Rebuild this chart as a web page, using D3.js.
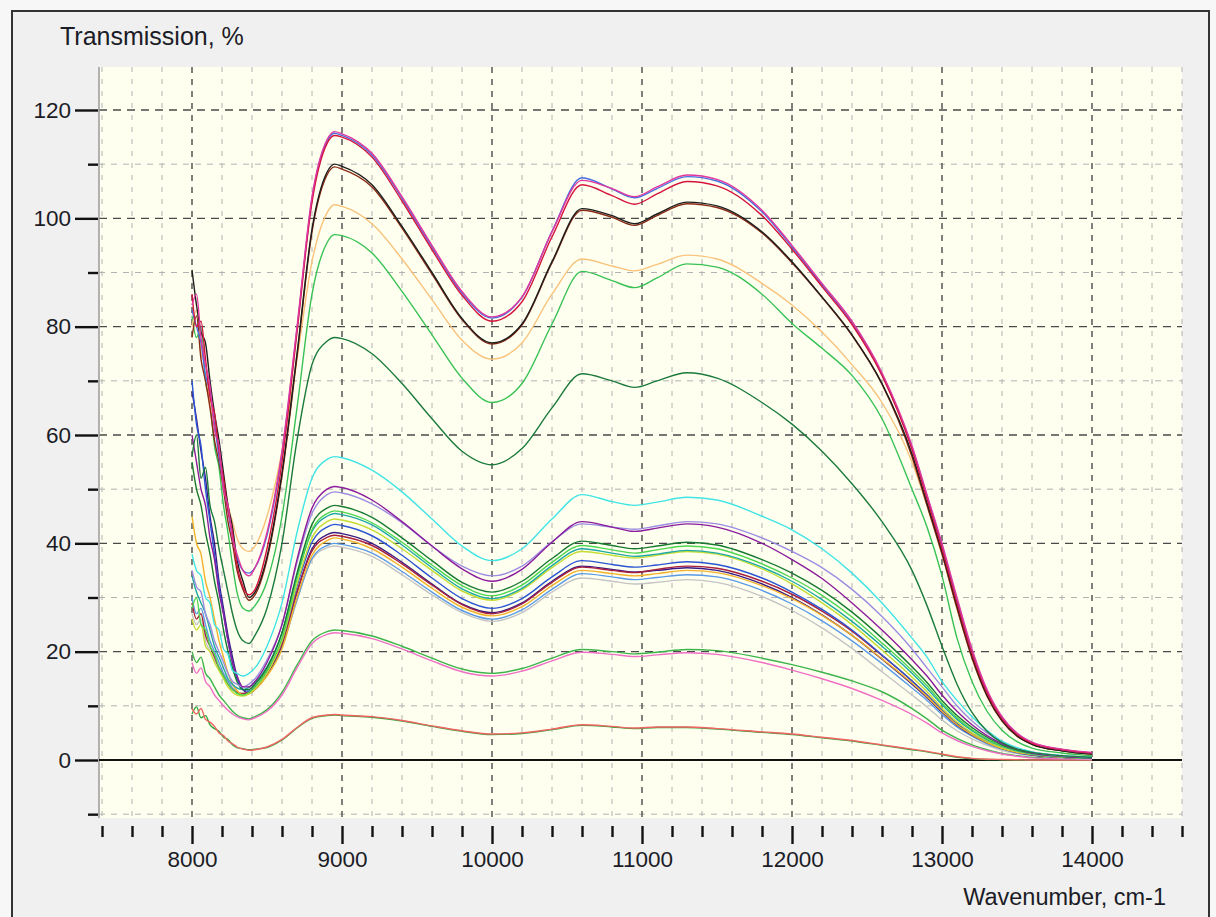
<!DOCTYPE html>
<html>
<head>
<meta charset="utf-8">
<script src="https://cdn.jsdelivr.net/npm/d3@7"></script>
<style>
  body { margin: 0; background: #f7f7f7; }
  text { font-family: "Liberation Sans", Arial, sans-serif; fill: #1c1c26; }
</style>
</head>
<body>
<svg id="chart" width="1216" height="917"></svg>
<script>
// wavenumber grid (cm-1) shared by every spectrum
const wavenumbers = [8000, 8030, 8060, 8090, 8120, 8150, 8180, 8210, 8240, 8270,
  8300, 8340, 8380, 8420, 8500, 8600, 8700, 8800, 8900, 8950,
  9000, 9200, 9400, 9600, 9800, 10000, 10200, 10400, 10600, 10800,
  10950, 11100, 11300, 11500, 11800, 12000, 12200, 12400, 12600, 12800,
  12900, 13000, 13100, 13200, 13300, 13400, 13500, 13600, 13800, 14000];

// top group
const magentaTop = [84, 86, 78, 73, 69, 61, 58, 50, 47, 41,
  38, 35, 34, 35.5, 42, 57, 80, 104, 114.5, 116,
  115.6, 112, 104, 95, 86.5, 81.8, 85.5, 97.5, 107, 105.5,
  104, 105.8, 108, 107.2, 101.5, 95, 88, 81, 71.5, 58,
  49, 40, 30, 20.5, 13, 8, 5, 3.3, 2, 1.4];
const blueTop = [83, 80, 77, 71, 68, 62, 56, 51, 46, 41,
  37.5, 35, 34.5, 35.5, 41.5, 56.5, 79.5, 103.6, 114.2, 115.7,
  115.3, 111.7, 103.7, 94.7, 86.2, 81.6, 85.4, 97.6, 107.5, 105.4,
  103.8, 105.5, 107.7, 106.9, 101.2, 94.7, 87.7, 80.7, 71.2, 57.7,
  48.7, 39.6, 29.6, 20.1, 12.7, 7.8, 4.9, 3.2, 1.9, 1.3];
const redTop = [86, 80, 81, 74, 67, 64, 57, 52, 46, 42,
  36, 32, 30.5, 31.5, 39, 55, 79, 103, 113.8, 115.3,
  115, 111.3, 103.2, 94.2, 85.8, 81, 84.6, 96.6, 106.2, 104.2,
  102.6, 104.5, 106.8, 106, 100.5, 94.3, 87.4, 80.4, 71, 57.3,
  48.2, 39, 29, 19.6, 12.4, 7.6, 4.7, 3.1, 1.9, 1.3];
const brownTop = [78, 82, 74, 70, 65, 59, 55, 50, 44, 40,
  35, 31.5, 29.5, 30.5, 37, 52.5, 74.5, 97.5, 108, 109.5,
  109.1, 105.8, 98.2, 89.7, 81.3, 76.8, 80.3, 91.8, 101.5, 100.2,
  98.7, 100.5, 102.7, 102, 97.3, 91.8, 85.4, 78.4, 69.4, 56,
  47, 38, 28, 18.8, 11.8, 7.2, 4.4, 2.9, 1.7, 1.1];
const blackTop = [90.5, 84, 79, 77, 70, 64, 59, 53, 47, 43,
  37, 33, 30, 31, 37.5, 53, 75, 98, 108.5, 110,
  109.6, 106.2, 98.5, 90, 81.5, 77, 80.5, 92, 101.8, 100.5,
  99, 100.8, 103, 102.3, 97.5, 92, 85.5, 78.5, 69.5, 56.5,
  47.5, 38.5, 28.5, 19.2, 12, 7.3, 4.5, 2.9, 1.7, 1.1];
const orangeTop = [80, 83, 75, 73, 66, 62, 57, 52, 47, 44,
  41, 39, 38.5, 39.5, 45, 57, 74, 92, 101, 102.5,
  102.2, 99, 92.5, 85, 77.5, 74, 77, 86, 92.5, 91.2,
  90.3, 91.5, 93.2, 92.5, 88, 84, 79, 73, 66, 55,
  47, 38, 28, 19, 12, 7.3, 4.5, 2.9, 1.7, 1];
const greenTop = [82, 78, 80, 70, 66, 58, 54, 47, 42, 36,
  31, 28, 27.5, 28.5, 33, 45, 65, 86, 95.5, 97,
  96.8, 93.6, 86.5, 78.5, 70.5, 66, 69.5, 80.5, 90.2, 88.5,
  87.2, 89, 91.6, 91, 86, 80.6, 76, 71, 63, 50,
  43, 34, 22.5, 14.5, 9, 5.5, 3.4, 2.2, 1.3, 0.8];
const darkGreenTop = [56, 60, 52, 54, 47, 44, 39, 35, 31, 27,
  24, 22, 21.5, 23, 28, 40, 59, 73, 77.3, 78,
  77.8, 75, 69.5, 63, 57, 54.5, 57.5, 65, 71.3, 70,
  68.8, 70, 71.5, 70.5, 66, 62, 57, 51, 44, 35,
  28.5, 21, 14, 8.8, 5.3, 3.2, 2, 1.4, 0.8, 0.5];

// middle group
const cyanB = [38, 35, 34, 30, 29, 25, 24, 20.5, 19.5, 16.5,
  16, 15.5, 16, 17, 21, 29, 42, 52, 55.5, 56,
  55.8, 53.5, 49.5, 44.5, 39.5, 36.8, 39, 44.5, 49, 47.7,
  47, 47.6, 48.5, 48, 45, 42.5, 39, 34.5, 29, 22.5,
  19, 14.5, 11, 8, 5.5, 3.5, 2.3, 1.5, 0.8, 0.5];
const purpleB = [60, 55, 50, 47, 41, 37, 31, 27, 22, 18,
  15.5, 13.5, 13.5, 14.5, 18, 25, 37, 46.5, 50, 50.5,
  50.3, 48, 44, 39.5, 35.3, 33, 35.2, 40.2, 44, 43,
  42.2, 42.8, 43.6, 43, 40, 37, 33.5, 29, 24, 18.5,
  15.5, 12, 9, 6.5, 4.5, 3, 2, 1.3, 0.7, 0.4];
const lavenderB = [35, 32, 31, 27, 25, 22, 20, 18, 16, 14.5,
  14, 13.5, 14, 15, 18.5, 25, 36.5, 45.5, 49, 49.5,
  49.3, 47.3, 43.8, 39.5, 35.8, 34, 35.8, 40.3, 43.6, 43,
  42.6, 43.2, 44, 43.6, 41, 38.5, 35.5, 31.5, 26.5, 20.5,
  17, 13.5, 10, 7.2, 5, 3.3, 2.2, 1.5, 0.8, 0.5];
const darkGreenB = [55, 50, 47, 42, 38, 33, 29, 24, 20, 17,
  14.5, 13, 13, 14, 17, 23.5, 34.5, 43.5, 46.5, 47,
  46.8, 44.8, 41, 36.8, 32.8, 31, 33, 37.2, 40.4, 39.6,
  39, 39.5, 40.2, 39.7, 37, 34.5, 31.3, 27.3, 22.5, 17.2,
  14.3, 11, 8.2, 6, 4.2, 2.8, 1.9, 1.3, 0.7, 0.4];
const lightGreenB = [28, 30, 25, 24, 21, 19.5, 17, 15.5, 14, 13,
  12.3, 12, 12.5, 13.5, 16.5, 22.5, 33.5, 42.5, 45.5, 46,
  45.8, 43.8, 40.2, 36, 32.2, 30.3, 32.3, 36.5, 39.6, 38.8,
  38.2, 38.8, 39.5, 39, 36.2, 33.6, 30.4, 26.4, 21.6, 16.5,
  13.7, 10.5, 7.8, 5.6, 3.9, 2.6, 1.8, 1.2, 0.6, 0.4];
const yellowGreenB = [26, 24, 25, 21, 20, 18, 16.5, 15, 13.5, 12.5,
  12, 11.8, 12.2, 13.2, 16, 22, 32.5, 41, 44, 44.5,
  44.3, 42.5, 39, 35, 31.2, 29.5, 31.4, 35.5, 38.5, 37.8,
  37.3, 37.8, 38.5, 38, 35.3, 32.5, 29, 25, 20.3, 15.3,
  12.6, 9.6, 7, 5, 3.5, 2.3, 1.6, 1.1, 0.6, 0.3];
const blueB = [70, 62, 58, 50, 44, 38, 32, 27, 22, 18,
  15, 13, 12.7, 13.5, 16.3, 22, 32, 40.2, 43, 43.5,
  43.3, 41.4, 37.8, 33.6, 29.8, 28, 29.8, 33.8, 36.8, 36.1,
  35.6, 36, 36.6, 36.1, 33.6, 31, 27.8, 24, 19.4, 14.6,
  12, 9.2, 6.7, 4.8, 3.3, 2.2, 1.5, 1, 0.5, 0.3];
const navyB = [68, 63, 57, 52, 45, 40, 33, 28, 23, 19,
  15.5, 13, 12.3, 13, 15.8, 21.3, 31, 39, 41.6, 42,
  41.8, 40, 36.5, 32.5, 28.8, 27.2, 29, 33, 35.8, 35.2,
  34.7, 35, 35.5, 35, 32.5, 30, 26.8, 23, 18.6, 14,
  11.5, 8.8, 6.4, 4.6, 3.2, 2.1, 1.4, 0.9, 0.5, 0.3];
const steelBlueB = [30, 27, 28, 25, 22, 20, 18, 16, 14.5, 13.3,
  12.5, 12.2, 12.5, 13.3, 15.8, 20.8, 29.5, 37.2, 39.6, 40,
  39.8, 38.2, 34.8, 31, 27.6, 26, 27.7, 31.5, 34.4, 33.8,
  33.3, 33.7, 34.2, 33.8, 31.3, 28.8, 25.7, 22, 17.8, 13.3,
  11, 8.4, 6.1, 4.4, 3, 2, 1.3, 0.9, 0.5, 0.3];
const grayB = [27, 25, 26, 22, 20, 18.5, 17, 15.5, 14.5, 13.8,
  13.2, 13, 13.3, 14, 16.5, 21.5, 30, 37, 39.2, 39.5,
  39.3, 37.6, 34.2, 30.5, 27.2, 25.6, 27.2, 31, 33.6, 33,
  32.5, 32.8, 33.3, 32.8, 30.2, 27.6, 24.4, 20.6, 16.3, 12,
  9.8, 7.4, 5.4, 3.9, 2.7, 1.8, 1.2, 0.8, 0.4, 0.2];
const tealB = [34, 31, 29, 27, 24, 21, 19, 17, 15, 14,
  13.3, 13, 13.4, 14.3, 17.2, 23.5, 34, 42.2, 45, 45.5,
  45.3, 43.4, 39.7, 35.5, 31.6, 29.8, 31.7, 35.9, 39, 38.2,
  37.6, 38, 38.7, 38.2, 35.6, 33, 29.6, 25.6, 21, 16,
  13.2, 10.2, 7.5, 5.4, 3.7, 2.5, 1.7, 1.1, 0.6, 0.3];
const maroonB = [29, 26, 27, 23, 21, 19, 17, 15.5, 14, 13,
  12.5, 12.3, 12.6, 13.4, 16, 21.5, 31, 38.6, 41.1, 41.5,
  41.3, 39.6, 36.2, 32.3, 28.7, 27, 28.8, 32.8, 35.6, 35,
  34.6, 35.2, 35.8, 35.4, 33, 30.6, 27.5, 23.8, 19.3, 14.6,
  12, 9.2, 6.7, 4.8, 3.3, 2.2, 1.5, 1, 0.5, 0.3];
const orangeB = [45, 40, 38, 33, 30, 26, 22, 19, 16, 14,
  12.8, 12, 12.2, 13, 15.5, 20.5, 30, 37.8, 40.5, 41,
  40.8, 39, 35.6, 31.7, 28.2, 26.6, 28.3, 32.2, 35, 34.4,
  34, 34.4, 35, 34.6, 32.2, 29.8, 26.7, 23, 18.7, 14.2,
  11.7, 9, 6.5, 4.7, 3.2, 2.1, 1.4, 1, 0.5, 0.3];

// low group
const greenC = [20, 18, 19, 16, 15, 13.5, 12, 11, 10, 9,
  8.3, 7.8, 7.6, 8, 9.3, 12.5, 17.5, 22, 23.7, 24,
  23.9, 22.9, 21, 18.8, 16.8, 16, 16.9, 18.8, 20.4, 20,
  19.6, 19.9, 20.4, 20.2, 18.8, 17.6, 16.2, 14.6, 12.6, 9.5,
  7.6, 5.5, 4, 2.8, 1.9, 1.2, 0.8, 0.5, 0.3, 0.2];
const pinkC = [18, 16, 17, 14.5, 13.5, 12, 11, 10, 9.2, 8.5,
  8, 7.6, 7.4, 7.8, 9, 12, 17, 21.5, 23.2, 23.5,
  23.4, 22.4, 20.5, 18.3, 16.3, 15.5, 16.4, 18.3, 19.9, 19.5,
  19.1, 19.4, 19.8, 19.5, 18, 16.6, 15, 13.2, 11, 8.4,
  6.8, 5, 3.6, 2.5, 1.7, 1.1, 0.7, 0.4, 0.2, 0.1];
const greenLow = [8.5, 9.8, 7.8, 8.2, 6.5, 5.8, 5.3, 4.2, 3.8, 2.8,
  2.3, 2.1, 1.9, 2, 2.3, 3.7, 5.9, 7.7, 8.2, 8.3,
  8.2, 7.9, 7.2, 6.2, 5.3, 4.7, 4.9, 5.6, 6.4, 6.1,
  5.8, 6, 6, 5.7, 5.1, 4.7, 4.1, 3.5, 2.7, 1.9,
  1.5, 1, 0.5, 0.25, 0.1, 0.05, 0, 0, 0, 0];
const redLow = [9.5, 8.5, 9.5, 7.5, 7, 6.2, 5, 4.5, 3.5, 3,
  2.4, 2, 1.8, 1.9, 2.4, 3.8, 6, 7.8, 8.3, 8.4,
  8.3, 8, 7.3, 6.3, 5.4, 4.8, 5, 5.7, 6.5, 6.2,
  5.9, 6.1, 6.1, 5.8, 5.2, 4.8, 4.2, 3.6, 2.8, 2,
  1.6, 1.1, 0.6, 0.3, 0.15, 0.1, 0.05, 0, 0, 0];

// tick labels
const xTickLabels = [8000, 9000, 10000, 11000, 12000, 13000, 14000];
const yTickLabels = [0, 20, 40, 60, 80, 100, 120];

// drawing order (first = bottom)
const spectra = [
  { values: greenLow, color: "#2fa83a" },
  { values: redLow, color: "#f06464" },
  { values: greenC, color: "#3cb44a" },
  { values: pinkC, color: "#ee6fc4" },
  { values: grayB, color: "#c4c4c4" },
  { values: steelBlueB, color: "#5a9ae6" },
  { values: navyB, color: "#3b1a86" },
  { values: maroonB, color: "#a8203e" },
  { values: blueB, color: "#2b55d4" },
  { values: orangeB, color: "#f2b22a" },
  { values: yellowGreenB, color: "#c6dc32" },
  { values: tealB, color: "#1fa9a2" },
  { values: lightGreenB, color: "#4ed64e" },
  { values: darkGreenB, color: "#177a30" },
  { values: lavenderB, color: "#9c8ce2" },
  { values: purpleB, color: "#8a1c9c" },
  { values: cyanB, color: "#40e4e4" },
  { values: darkGreenTop, color: "#1b7a3c" },
  { values: greenTop, color: "#38c255" },
  { values: orangeTop, color: "#f8c27a" },
  { values: brownTop, color: "#8a2a14" },
  { values: blackTop, color: "#1e1e1e" },
  { values: blueTop, color: "#4a6ee0" },
  { values: redTop, color: "#d4143c" },
  { values: magentaTop, color: "#e0369e" }
];

const PLOT = { left: 99, right: 1182, top: 67, bottom: 818 };

const svg = d3.select("#chart");

const x = d3.scaleLinear().domain([7400, 14600]).range([102, 1182]);
const y = d3.scaleLinear().domain([0, 120]).range([760, 110]);

// outer panel
svg.append("rect")
  .attr("x", 12).attr("y", 11)
  .attr("width", 1197).attr("height", 940)
  .attr("fill", "#f0f0f0")
  .attr("stroke", "#333").attr("stroke-width", 2);

svg.append("rect")
  .attr("x", PLOT.left).attr("y", PLOT.top)
  .attr("width", PLOT.right - PLOT.left).attr("height", PLOT.bottom - PLOT.top)
  .attr("fill", "#fffff0");

svg.append("defs").append("clipPath").attr("id", "plotClip")
  .append("rect")
  .attr("x", PLOT.left).attr("y", PLOT.top)
  .attr("width", PLOT.right - PLOT.left).attr("height", PLOT.bottom - PLOT.top);

// grid
const grid = svg.append("g");
const xMinor = d3.range(7400, 14601, 200).filter(v => v % 1000 !== 0);
const yMinor = d3.range(-10, 121, 10).filter(v => v % 20 !== 0);

grid.selectAll(".vminor").data(xMinor).enter().append("line")
  .attr("x1", d => x(d)).attr("x2", d => x(d))
  .attr("y1", PLOT.top).attr("y2", PLOT.bottom)
  .attr("stroke", "#b2b2b2").attr("stroke-width", 1)
  .attr("stroke-dasharray", "5,7");

grid.selectAll(".hminor").data(yMinor).enter().append("line")
  .attr("x1", PLOT.left).attr("x2", PLOT.right)
  .attr("y1", d => y(d)).attr("y2", d => y(d))
  .attr("stroke", "#b2b2b2").attr("stroke-width", 1)
  .attr("stroke-dasharray", "6,6");

grid.selectAll(".vmajor").data(xTickLabels).enter().append("line")
  .attr("x1", d => x(d)).attr("x2", d => x(d))
  .attr("y1", PLOT.top).attr("y2", PLOT.bottom)
  .attr("stroke", "#4a4a4a").attr("stroke-width", 1.4)
  .attr("stroke-dasharray", "6,6");

grid.selectAll(".hmajor").data(yTickLabels.filter(v => v !== 0)).enter().append("line")
  .attr("x1", PLOT.left).attr("x2", PLOT.right)
  .attr("y1", d => y(d)).attr("y2", d => y(d))
  .attr("stroke", "#4a4a4a").attr("stroke-width", 1.4)
  .attr("stroke-dasharray", "8,6");

// left edge of plot
svg.append("line")
  .attr("x1", PLOT.left).attr("x2", PLOT.left)
  .attr("y1", PLOT.top).attr("y2", PLOT.bottom)
  .attr("stroke", "#9a9a9a").attr("stroke-width", 1.5);

// zero line
svg.append("line")
  .attr("x1", PLOT.left).attr("x2", PLOT.right)
  .attr("y1", y(0)).attr("y2", y(0))
  .attr("stroke", "#111").attr("stroke-width", 2.2);

// spectra
const line = d3.line()
  .x((d, i) => x(wavenumbers[i]))
  .y(d => y(d))
  .curve(d3.curveMonotoneX);

svg.append("g").attr("clip-path", "url(#plotClip)")
  .selectAll("path").data(spectra).enter().append("path")
  .attr("d", d => line(d.values))
  .attr("fill", "none")
  .attr("stroke", d => d.color)
  .attr("stroke-width", 1.4);

// axes
const yMajorAxis = d3.axisLeft(y).tickValues(yTickLabels).tickSize(23).tickPadding(4);
const yMinorAxis = d3.axisLeft(y).tickValues(yMinor).tickSize(10).tickFormat("");
const xMajorAxis = d3.axisBottom(x).tickValues(xTickLabels).tickSize(18).tickPadding(7).tickFormat(d3.format("d"));
const xMinorAxis = d3.axisBottom(x).tickValues(xMinor).tickSize(11).tickFormat("");

function styleAxis(g) {
  g.select(".domain").remove();
  g.selectAll(".tick line").attr("stroke", "#111").attr("stroke-width", 2.4);
  g.selectAll(".tick text").style("font-size", "22.5px").attr("fill", "#1c1c26");
}

svg.append("g").attr("transform", `translate(${PLOT.left - 1},0)`).call(yMinorAxis).call(styleAxis);
svg.append("g").attr("transform", `translate(${PLOT.left - 1},0)`).call(yMajorAxis).call(styleAxis);
svg.append("g").attr("transform", `translate(0,${PLOT.bottom + 8})`).call(xMinorAxis).call(styleAxis);
svg.append("g").attr("transform", `translate(0,${PLOT.bottom + 8})`).call(xMajorAxis).call(styleAxis);

// axis titles
svg.append("text")
  .attr("x", 60).attr("y", 45)
  .style("font-size", "25px")
  .text("Transmission, %");

svg.append("text")
  .attr("x", 1166).attr("y", 905)
  .attr("text-anchor", "end")
  .style("font-size", "23.5px")
  .text("Wavenumber, cm-1");
</script>
</body>
</html>
